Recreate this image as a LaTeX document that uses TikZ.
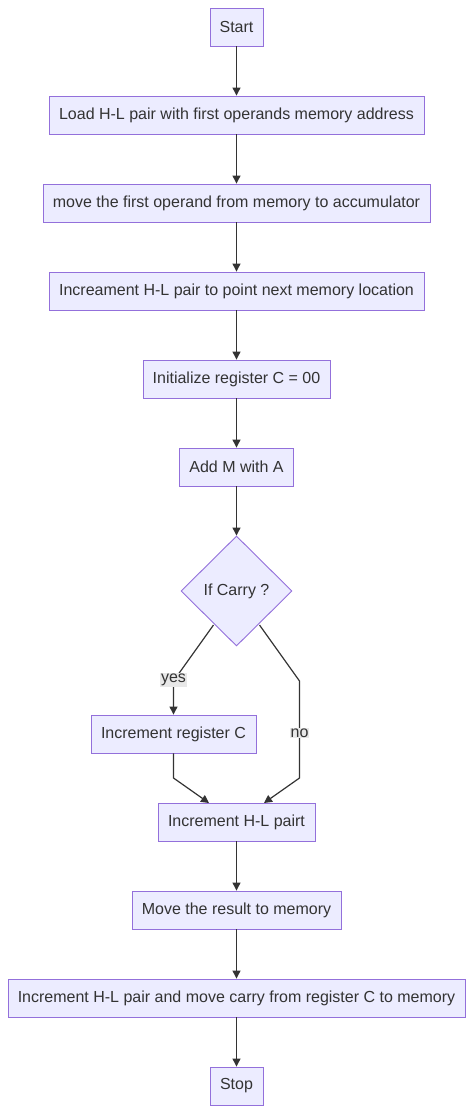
\documentclass[tikz,border=0pt]{standalone}
\usepackage{fontspec}
\setmainfont{Liberation Sans}
\usetikzlibrary{arrows.meta,shapes.geometric}
\definecolor{nfill}{HTML}{ECECFF}
\definecolor{nstroke}{HTML}{9370DB}
\definecolor{ink}{HTML}{333333}
\definecolor{lbl}{HTML}{E8E8E8}
\begin{document}
\begin{tikzpicture}[x=1pt,y=-1pt,
  box/.style={draw=nstroke, fill=nfill, line width=0.9pt, text=ink, font=\fontsize{16}{19}\selectfont, minimum height=38pt, inner sep=0pt},
  dia/.style={diamond, draw=nstroke, fill=nfill, line width=0.9pt, text=ink, font=\fontsize{16}{19}\selectfont, minimum width=111pt, minimum height=110pt, inner sep=0pt},
  lab/.style={fill=lbl, text=ink, font=\fontsize{16}{19}\selectfont, inner sep=1pt},
  conn/.style={draw=ink, line width=1.2pt, -{Triangle[length=8pt,width=8pt]}},
  seg/.style={draw=ink, line width=1.2pt}]
\useasboundingbox (0,0) rectangle (474,1114);
\node[box, minimum width=53pt] (start) at (236.5,27) {Start};
\node[box, minimum width=375pt] (load) at (236.5,115) {Load H-L pair with first operands memory address};
\node[box, minimum width=387pt] (move) at (236.5,203) {move the first operand from memory to accumulator};
\node[box, minimum width=375pt] (incr) at (236.5,291) {Increament H-L pair to point next memory location};
\node[box, minimum width=187pt] (init) at (236.5,379) {Initialize register C = 00};
\node[box, minimum width=114pt] (add) at (236.5,467) {Add M with A};
\node[dia] (carry) at (236.5,591) {If Carry ?};
\node[box, minimum width=165pt] (incc) at (173.5,734) {Increment register C};
\node[box, minimum width=157pt] (inchl) at (236.5,822) {Increment H-L pairt};
\node[box, minimum width=209pt] (res) at (236.5,910) {Move the result to memory};
\node[box, minimum width=457pt] (fin) at (236.5,998) {Increment H-L pair and move carry from register C to memory};
\node[box, minimum width=53pt] (stop) at (236.5,1086) {Stop};

\draw[conn] (start) -- (load);
\draw[conn] (load) -- (move);
\draw[conn] (move) -- (incr);
\draw[conn] (incr) -- (init);
\draw[conn] (init) -- (add);
\draw[conn] (add) -- (carry);

\coordinate (yl) at (213.5,625);
\coordinate (yb) at (173.5,681);
\coordinate (nl) at (259.5,625);
\coordinate (nb) at (299.5,681);
\coordinate (nc) at (299.5,778);
\coordinate (cb) at (173.5,778);

\draw[conn] (yl) -- (yb) -- (incc.north);
\node[lab] (yes) at (173.5,680) {yes};
\draw[conn] (nl) -- (nb) -- (nc) -- (264,803);
\node[lab] (no) at (299.5,733) {no};
\draw[conn] (incc.south) -- (cb) -- (209,803);

\draw[conn] (inchl) -- (res);
\draw[conn] (res) -- (fin);
\draw[conn] (fin) -- (stop);
\end{tikzpicture}
\end{document}
